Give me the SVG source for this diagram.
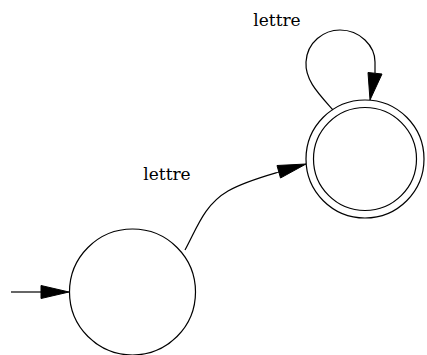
<svg xmlns="http://www.w3.org/2000/svg" width="427" height="355" viewBox="0 0 427 355">
  <style>
    .state { fill: none; stroke: #000; stroke-width: 1.2; }
    .edge { fill: none; stroke: #000; stroke-width: 1.2; }
    .head { fill: #000; stroke: #000; stroke-width: 1; }
    .label { font-family: "DejaVu Serif", "Liberation Serif", serif; font-size: 17px; fill: #000; text-anchor: middle; }
  </style>
  <rect width="427" height="355" fill="#fff"/>
  <g id="q0">
    <circle class="state" cx="132.5" cy="292" r="63"/>
  </g>
  <g id="q1">
    <circle class="state" cx="365" cy="159" r="59"/>
    <circle class="state" cx="365" cy="159" r="51.5"/>
  </g>
  <g id="edges">
    <!-- initial arrow -->
    <path class="edge" d="M11,292 L42,292"/>
    <polygon class="head" points="69,292 41,285.5 41,298.5"/>
    <!-- q0 -> q1 -->
    <path class="edge" d="M185,250 C197,228 204,205 228,191 C244,182 262,177 279,172"/>
    <polygon class="head" points="306,164 277,165.5 280.5,178"/>
    <!-- q1 self-loop -->
    <path class="edge" d="M333,110 C318,93 305,80 306,62 C307,42 324,30 340,30 C360,30 375,46 375,62 L375,73"/>
    <polygon class="head" points="370,100 368,72.5 382,74"/>
  </g>
  <g id="labels">
    <text class="label" x="167" y="180">lettre</text>
    <text class="label" x="277" y="26">lettre</text>
  </g>
</svg>
